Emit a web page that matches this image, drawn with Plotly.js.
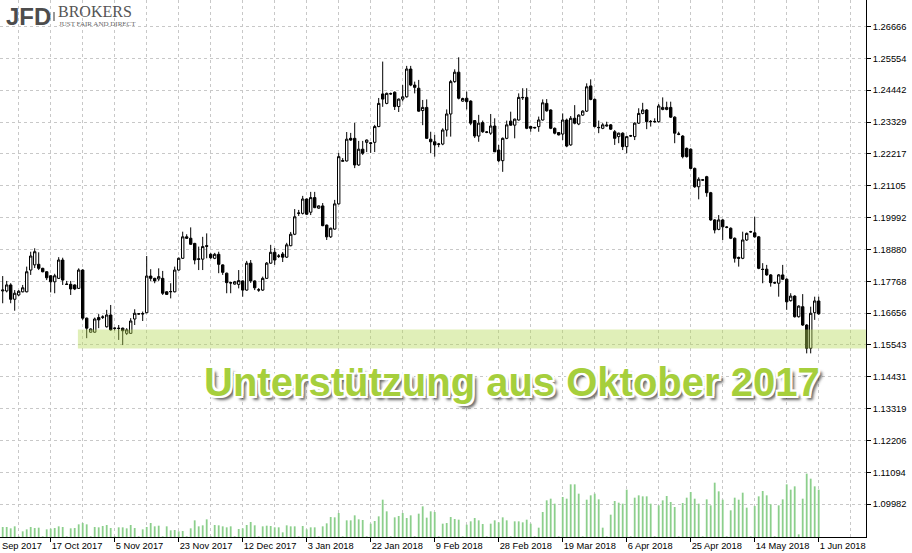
<!DOCTYPE html>
<html>
<head>
<meta charset="utf-8">
<script src="https://cdn.plot.ly/plotly-3.0.1.min.js"></script>
<style>
  html, body { margin: 0; padding: 0; background: #ffffff; }
  #chart { width: 912px; height: 553px; }
</style>
</head>
<body>
<div id="chart"></div>
<script>
// ---- data (EUR/USD daily, bar index 0 = 3 Oct 2017 ... 204 = 1 Jun 2018) ----
const open = [
 1.1743,1.1743,1.1764,1.1714,1.1729,1.1740,1.1740,1.1816,1.1834,1.1836,
 1.1822,1.1810,1.1796,1.1775,1.1787,1.1851,1.1767,1.1766,1.1764,1.1752,
 1.1816,1.1648,1.1599,1.1599,1.1650,1.1651,1.1618,1.1659,1.1612,1.1613,
 1.1613,1.1595,1.1595,1.1645,1.1663,1.1664,1.1667,1.1795,1.1787,1.1785,
 1.1787,1.1740,1.1740,1.1740,1.1816,1.1857,1.1932,1.1927,1.1909,1.1853,
 1.1854,1.1901,1.1871,1.1857,1.1871,1.1834,1.1805,1.1772,1.1767,1.1766,
 1.1778,1.1746,1.1840,1.1778,1.1746,1.1746,1.1787,1.1840,1.1878,1.1864,
 1.1872,1.1861,1.1901,1.1941,1.2014,1.2014,1.2064,1.2018,1.2069,1.2032,
 1.2040,1.1973,1.1932,1.1959,1.2047,1.2196,1.2197,1.2276,1.2276,1.2183,
 1.2238,1.2262,1.2258,1.2262,1.2317,1.2431,1.2398,1.2431,1.2437,1.2387,
 1.2413,1.2421,1.2518,1.2462,1.2451,1.2373,1.2384,1.2273,1.2264,1.2255,
 1.2256,1.2305,1.2361,1.2474,1.2507,1.2406,1.2416,1.2406,1.2338,1.2284,
 1.2331,1.2297,1.2294,1.2319,1.2235,1.2198,1.2276,1.2336,1.2322,1.2340,
 1.2419,1.2419,1.2317,1.2312,1.2317,1.2340,1.2398,1.2375,1.2311,1.2296,
 1.2291,1.2340,1.2253,1.2346,1.2326,1.2357,1.2371,1.2459,1.2412,1.2313,
 1.2311,1.2319,1.2323,1.2299,1.2282,1.2294,1.2247,1.2284,1.2282,1.2329,
 1.2363,1.2375,1.2334,1.2335,1.2334,1.2377,1.2377,1.2384,1.2350,1.2290,
 1.2284,1.2241,1.2238,1.2171,1.2107,1.2130,1.2142,1.2086,1.1991,1.1958,
 1.1991,1.1965,1.1962,1.1927,1.1860,1.1857,1.1921,1.1949,1.1946,1.1932,
 1.1819,1.1819,1.1799,1.1772,1.1770,1.1799,1.1784,1.1709,1.1725,1.1653,
 1.1688,1.1624,1.1543,1.1667,1.1708];
const high = [
 1.1795,1.1778,1.1770,1.1746,1.1746,1.1764,1.1828,1.1880,1.1892,1.1878,
 1.1824,1.1812,1.1798,1.1803,1.1861,1.1859,1.1778,1.1778,1.1766,1.1822,
 1.1819,1.1650,1.1612,1.1650,1.1662,1.1658,1.1677,1.1694,1.1616,1.1624,
 1.1615,1.1613,1.1648,1.1679,1.1665,1.1671,1.1865,1.1819,1.1789,1.1822,
 1.1813,1.1742,1.1770,1.1828,1.1860,1.1950,1.1941,1.1965,1.1911,1.1898,
 1.1932,1.1944,1.1875,1.1876,1.1880,1.1836,1.1807,1.1775,1.1778,1.1816,
 1.1780,1.1848,1.1851,1.1780,1.1753,1.1793,1.1844,1.1904,1.1893,1.1872,
 1.1879,1.1911,1.1949,1.2029,1.2026,1.2075,1.2066,1.2089,1.2089,1.2042,
 1.2050,1.1975,1.1964,1.2061,1.2225,1.2207,1.2298,1.2295,1.2330,1.2267,
 1.2267,1.2272,1.2262,1.2323,1.2417,1.2544,1.2436,1.2436,1.2440,1.2415,
 1.2462,1.2529,1.2529,1.2474,1.2480,1.2410,1.2412,1.2299,1.2288,1.2260,
 1.2311,1.2377,1.2480,1.2517,1.2559,1.2418,1.2439,1.2409,1.2340,1.2358,
 1.2338,1.2301,1.2361,1.2346,1.2253,1.2279,1.2338,1.2369,1.2345,1.2433,
 1.2451,1.2451,1.2320,1.2316,1.2352,1.2412,1.2413,1.2377,1.2314,1.2298,
 1.2363,1.2345,1.2354,1.2392,1.2360,1.2374,1.2468,1.2482,1.2415,1.2338,
 1.2329,1.2334,1.2326,1.2305,1.2296,1.2297,1.2285,1.2288,1.2332,1.2381,
 1.2400,1.2378,1.2340,1.2346,1.2396,1.2419,1.2404,1.2404,1.2353,1.2299,
 1.2287,1.2244,1.2241,1.2174,1.2140,1.2134,1.2145,1.2089,1.1994,1.2008,
 1.1994,1.1969,1.1965,1.1930,1.1863,1.1950,1.1947,1.1953,1.2002,1.1935,
 1.1840,1.1834,1.1802,1.1775,1.1802,1.1834,1.1787,1.1735,1.1728,1.1693,
 1.1732,1.1627,1.1688,1.1723,1.1723];
const low = [
 1.1700,1.1738,1.1700,1.1674,1.1725,1.1738,1.1738,1.1799,1.1823,1.1816,
 1.1808,1.1781,1.1738,1.1735,1.1785,1.1764,1.1764,1.1729,1.1746,1.1750,
 1.1642,1.1578,1.1597,1.1597,1.1613,1.1645,1.1615,1.1604,1.1605,1.1572,
 1.1554,1.1589,1.1593,1.1624,1.1660,1.1638,1.1665,1.1778,1.1770,1.1778,
 1.1729,1.1729,1.1717,1.1738,1.1814,1.1855,1.1925,1.1904,1.1836,1.1816,
 1.1816,1.1857,1.1855,1.1854,1.1805,1.1799,1.1735,1.1735,1.1765,1.1752,
 1.1723,1.1744,1.1771,1.1746,1.1740,1.1743,1.1785,1.1838,1.1834,1.1858,
 1.1844,1.1858,1.1899,1.1938,1.2005,1.2010,1.2008,1.2008,1.2032,1.2030,
 1.1969,1.1921,1.1928,1.1957,1.2045,1.2194,1.2195,1.2267,1.2172,1.2180,
 1.2218,1.2228,1.2225,1.2228,1.2315,1.2386,1.2395,1.2428,1.2375,1.2368,
 1.2405,1.2418,1.2458,1.2433,1.2369,1.2322,1.2274,1.2224,1.2212,1.2245,
 1.2252,1.2282,1.2282,1.2470,1.2412,1.2404,1.2377,1.2322,1.2277,1.2264,
 1.2295,1.2294,1.2288,1.2228,1.2193,1.2159,1.2273,1.2320,1.2276,1.2338,
 1.2410,1.2308,1.2299,1.2310,1.2299,1.2338,1.2369,1.2308,1.2290,1.2286,
 1.2270,1.2245,1.2250,1.2325,1.2322,1.2355,1.2368,1.2409,1.2314,1.2294,
 1.2308,1.2317,1.2305,1.2253,1.2259,1.2235,1.2224,1.2281,1.2270,1.2326,
 1.2360,1.2308,1.2317,1.2331,1.2331,1.2374,1.2374,1.2347,1.2259,1.2287,
 1.2206,1.2209,1.2168,1.2103,1.2063,1.2127,1.2072,1.1988,1.1944,1.1955,
 1.1921,1.1962,1.1924,1.1842,1.1828,1.1854,1.1918,1.1946,1.1929,1.1819,
 1.1770,1.1796,1.1758,1.1768,1.1723,1.1781,1.1677,1.1706,1.1650,1.1650,
 1.1621,1.1525,1.1525,1.1642,1.1660];
const close = [
 1.1746,1.1764,1.1714,1.1735,1.1742,1.1754,1.1810,1.1865,1.1880,1.1822,
 1.1810,1.1789,1.1775,1.1796,1.1851,1.1781,1.1766,1.1750,1.1750,1.1816,
 1.1648,1.1613,1.1610,1.1645,1.1642,1.1652,1.1659,1.1607,1.1613,1.1612,
 1.1604,1.1607,1.1638,1.1665,1.1663,1.1663,1.1795,1.1787,1.1778,1.1793,
 1.1735,1.1731,1.1741,1.1816,1.1857,1.1932,1.1927,1.1906,1.1851,1.1855,
 1.1898,1.1899,1.1859,1.1871,1.1836,1.1808,1.1772,1.1771,1.1775,1.1779,
 1.1746,1.1840,1.1778,1.1754,1.1747,1.1787,1.1840,1.1878,1.1851,1.1865,
 1.1861,1.1904,1.1941,1.2002,1.2015,1.2064,1.2011,1.2069,1.2034,1.2040,
 1.1971,1.1932,1.1962,1.2047,1.2212,1.2198,1.2273,1.2270,1.2183,1.2238,
 1.2224,1.2270,1.2260,1.2317,1.2398,1.2413,1.2433,1.2432,1.2387,1.2413,
 1.2421,1.2518,1.2462,1.2454,1.2371,1.2384,1.2276,1.2264,1.2253,1.2256,
 1.2305,1.2361,1.2474,1.2507,1.2416,1.2415,1.2404,1.2329,1.2284,1.2329,
 1.2299,1.2298,1.2319,1.2229,1.2198,1.2276,1.2323,1.2322,1.2343,1.2419,
 1.2418,1.2311,1.2311,1.2314,1.2340,1.2400,1.2372,1.2311,1.2294,1.2288,
 1.2340,1.2249,1.2346,1.2329,1.2357,1.2371,1.2456,1.2412,1.2317,1.2314,
 1.2323,1.2322,1.2308,1.2276,1.2294,1.2247,1.2282,1.2285,1.2329,1.2363,
 1.2375,1.2334,1.2335,1.2334,1.2389,1.2384,1.2384,1.2350,1.2294,1.2291,
 1.2212,1.2212,1.2171,1.2107,1.2133,1.2131,1.2086,1.1991,1.1956,1.1991,
 1.1967,1.1966,1.1927,1.1857,1.1857,1.1921,1.1944,1.1950,1.1932,1.1822,
 1.1818,1.1799,1.1772,1.1771,1.1799,1.1784,1.1705,1.1725,1.1653,1.1690,
 1.1624,1.1543,1.1665,1.1708,1.1663];
// tick volume, thousands
const volume = [
 30,30,26,32,2,17,23,30,27,28,
 2,23,25,27,32,30,2,26,27,38,
 42,38,2,30,29,33,36,27,2,29,
 29,26,36,27,2,23,30,42,32,34,
 2,32,20,21,17,18,2,26,50,32,
 35,53,2,36,35,32,29,32,2,24,
 26,36,45,35,2,32,34,33,29,29,
 14,35,32,32,2,33,23,29,29,2,
 32,41,60,59,72,2,50,50,65,53,
 51,2,40,48,62,112,77,2,59,63,
 72,57,65,2,70,92,58,77,75,2,
 40,42,60,54,52,2,37,47,57,50,
 39,2,40,50,44,59,50,2,47,47,
 44,52,40,2,28,75,110,115,100,2,
 120,115,158,158,130,2,112,125,130,113,
 28,2,67,108,103,100,142,2,118,125,
 122,122,100,2,95,110,123,105,90,2,
 102,118,135,115,100,2,113,95,163,137,
 112,2,80,118,112,133,88,2,93,122,
 138,125,98,2,95,113,158,142,152,8,
 115,190,175,152,142];

const dateLabels = ['17 Oct 2017','5 Nov 2017','23 Nov 2017','12 Dec 2017','3 Jan 2018','22 Jan 2018',
  '9 Feb 2018','28 Feb 2018','19 Mar 2018','6 Apr 2018','25 Apr 2018','14 May 2018','1 Jun 2018'];
const dateLabelBars = [12,28,44,60,76,92,108,124,140,156,172,188,204];
const priceTicks = [1.09982,1.11094,1.12206,1.13319,1.14431,1.15543,1.16656,1.17768,
  1.18880,1.19992,1.21105,1.22217,1.23329,1.24442,1.25554,1.26666];
const priceTickText = ['1.09982','1.11094','1.12206','1.13319','1.14431','1.15543','1.16656','1.17768',
  '1.18880','1.19992','1.21105','1.22217','1.23329','1.24442','1.25554','1.26666'];
const supportLow = 1.15417, supportHigh = 1.16082, supportStartBar = 18.8;
const annotationText = 'Unterstützung aus Oktober 2017';

// ---- build ----
const bars = open.map((_, i) => i);
const gridBars = dateLabelBars.map(b => b - 8).concat([dateLabelBars[dateLabelBars.length - 1] + 8]);
const xRange = [-0.675, 215.825];
const yRange = [1.08837, 1.27591];
const GRID = '#c8c8c8';
const TFONT = {family: 'Liberation Sans, Arial, sans-serif', size: 9.3, color: '#000'};

const candles = {
  type: 'candlestick', x: bars, open: open, high: high, low: low, close: close,
  increasing: {line: {color: '#000', width: 1}, fillcolor: '#ffffff'},
  decreasing: {line: {color: '#000', width: 1}, fillcolor: '#000000'},
  whiskerwidth: 0, hoverinfo: 'skip', showlegend: false, xaxis: 'x', yaxis: 'y'
};
const vols = {
  type: 'bar', x: bars, y: volume, width: 0.45, xaxis: 'x', yaxis: 'y2',
  marker: {color: '#8ccf8c', line: {width: 0}}, hoverinfo: 'skip', showlegend: false
};

const px = v => v / 866;            // helper for paper x (plot width 866)
const py = v => 1 - v / 537;        // helper for paper y (plot height 537)

const layout = {
  width: 912, height: 553,
  margin: {l: 0, r: 46, t: 0, b: 16, pad: 0},
  paper_bgcolor: '#ffffff', plot_bgcolor: '#ffffff',
  showlegend: false, hovermode: false,
  boxgap: 0.4, boxgroupgap: 0,
  xaxis: {
    range: xRange, fixedrange: true, rangeslider: {visible: false},
    tickmode: 'array', tickvals: dateLabelBars, ticktext: dateLabels,
    ticks: 'outside', ticklen: 4, tickcolor: '#000', tickwidth: 1,
    ticklabelposition: 'outside right', tickfont: TFONT,
    showgrid: true, gridcolor: GRID, griddash: '3px,3px', gridwidth: 1,
    minor: {tickmode: 'array', tickvals: gridBars, showgrid: true, gridcolor: GRID, griddash: '3px,3px', gridwidth: 1, ticks: ''},
    showline: true, linecolor: '#000', linewidth: 1, zeroline: false
  },
  yaxis: {
    range: yRange, fixedrange: true, side: 'right',
    tickmode: 'array', tickvals: priceTicks, ticktext: priceTickText,
    ticks: 'outside', ticklen: 4, tickcolor: '#000', tickfont: TFONT,
    showgrid: true, gridcolor: GRID, griddash: '3px,3px', gridwidth: 1,
    showline: true, linecolor: '#000', linewidth: 1, zeroline: false
  },
  yaxis2: {overlaying: 'y', range: [0, 1611], visible: false, fixedrange: true},
  shapes: [
    {type: 'rect', xref: 'x', yref: 'y', x0: supportStartBar, x1: xRange[1], y0: supportLow, y1: supportHigh,
     fillcolor: 'rgba(182,218,85,0.42)', line: {width: 0}, layer: 'above'},
    {type: 'line', xref: 'paper', yref: 'paper', x0: px(54), x1: px(54), y0: py(12), y1: py(21),
     line: {color: '#777', width: 1.5}}
  ],
  annotations: [
    {text: annotationText, xref: 'paper', yref: 'paper', x: px(202), y: py(358), xanchor: 'left', yanchor: 'top',
     showarrow: false,
     font: {family: 'Liberation Sans, Arial, sans-serif', size: 40, weight: 700, color: '#a6cf3c',
            shadow: '-2px -2px 0 #fff, 2px -2px 0 #fff, -2px 2px 0 #fff, 2px 2px 0 #fff, 0 -2px 0 #fff, 0 2px 0 #fff, -2px 0 0 #fff, 2px 0 0 #fff, 4px 4px 3px rgba(0,0,0,0.6)'}},
    {text: 'JFD', xref: 'paper', yref: 'paper', x: px(4), y: py(1), xanchor: 'left', yanchor: 'top', showarrow: false,
     font: {family: 'Liberation Sans, Arial, sans-serif', size: 24, weight: 700, color: '#4d4d4d'}},
    {text: 'BROKERS', xref: 'paper', yref: 'paper', x: px(56), y: py(1), xanchor: 'left', yanchor: 'top', showarrow: false,
     font: {family: 'Liberation Serif, Times New Roman, serif', size: 16, color: '#555'}},
    {text: 'JUST FAIR AND DIRECT', xref: 'paper', yref: 'paper', x: px(57), y: py(18), xanchor: 'left', yanchor: 'top', showarrow: false,
     font: {family: 'Liberation Serif, Times New Roman, serif', size: 7, color: '#666'}},
    {text: 'Sep 2017', xref: 'paper', yref: 'paper', x: 0, y: py(546), xanchor: 'left', yanchor: 'middle', showarrow: false,
     font: TFONT}
  ]
};

Plotly.newPlot('chart', [candles, vols], layout, {displayModeBar: false, staticPlot: true});
</script>
</body>
</html>
